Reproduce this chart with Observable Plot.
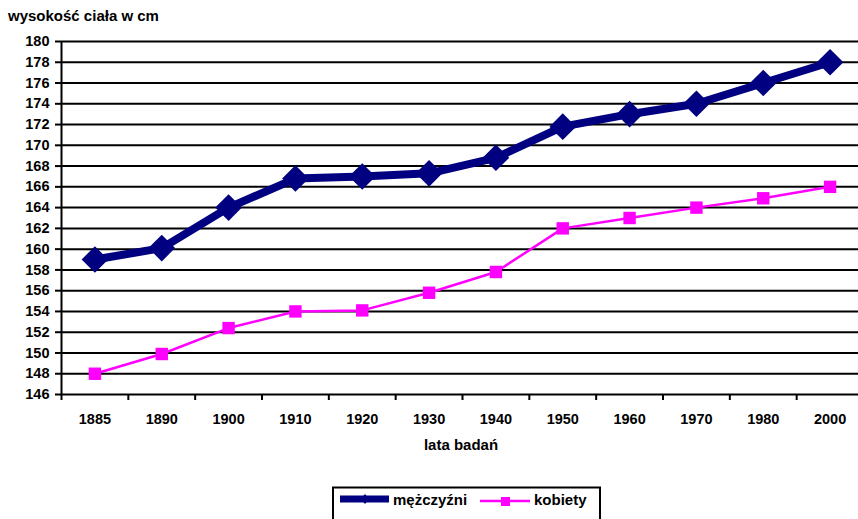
<!DOCTYPE html>
<html><head><meta charset="utf-8">
<script src="https://cdn.jsdelivr.net/npm/d3@7"></script>
<script src="https://cdn.jsdelivr.net/npm/@observablehq/plot@0.6"></script>
<style>
body{margin:0;background:#fff;}
#wrap{position:relative;width:858px;height:519px;overflow:hidden;background:#fff;font-family:"Liberation Sans",Arial,sans-serif;}
#wrap > svg{position:absolute;left:0;top:0;}
</style></head><body><div id="wrap"></div>
<script>
const years = ["1885","1890","1900","1910","1920","1930","1940","1950","1960","1970","1980","2000"];
const men = [159.0,160.1,164.0,166.8,167.0,167.3,168.8,171.8,173.0,174.0,176.0,178.0];
const women = [148.0,149.9,152.4,154.0,154.1,155.8,157.8,162.0,163.0,164.0,164.9,166.0];
const yTicks = [146,148,150,152,154,156,158,160,162,164,166,168,170,172,174,176,178,180];
const seriesNames = ["mężczyźni","kobiety"];
const titleText = "wysokość ciała w cm";
const xTitle = "lata badań";

const menData = years.map((y,i)=>({year:y, v:men[i]}));
const womenData = years.map((y,i)=>({year:y, v:women[i]}));

const left = 61, right = 863;
const bw = (right-left)/years.length;
const font = "'Liberation Sans', Arial, sans-serif";

const chart = Plot.plot({
  width: 858, height: 519,
  marginLeft: left, marginRight: 0, marginTop: 41, marginBottom: 125,
  style: {fontFamily: font, fontSize: "14.5px", fontWeight: "bold", color: "#000", background: "transparent", overflow: "visible"},
  x: {type: "band", domain: years, range: [left, right], padding: 0, round: false, label: null},
  y: {domain: [146, 180], label: null},
  marks: [
    Plot.ruleY(yTicks, {stroke: "#000", strokeWidth: 2}),
    Plot.ruleX(years, {x: d=>d, y1: 146, y2: 146, insetBottom: -6, dx: -bw/2, stroke: "#000", strokeWidth: 2}),
    Plot.ruleX(years.slice(0,1), {x: d=>d, y1: 146, y2: 180, dx: -bw/2, stroke: "#000", strokeWidth: 2}),
    Plot.axisY({ticks: yTicks, tickSize: 6, tickPadding: 6, stroke: "#000", strokeWidth: 2, label: null, fontWeight: "bold", fontSize: 14.5}),
    Plot.axisX({tickSize: 0, tickPadding: 19, label: null, fontWeight: "bold", fontSize: 14.5}),
    Plot.line(menData, {x: "year", y: "v", stroke: "#000080", strokeWidth: 8, strokeLinejoin: "round"}),
    Plot.dot(menData, {x: "year", y: "v", symbol: "diamond2", r: 12, fill: "#000080", stroke: "none"}),
    Plot.line(womenData, {x: "year", y: "v", stroke: "#FF00FF", strokeWidth: 2.5}),
    Plot.dot(womenData, {x: "year", y: "v", symbol: "square", r: 7, fill: "#FF00FF", stroke: "none"})
  ]
});
d3.select(chart).selectAll("text").style("font-size","14.5px").style("font-weight","bold").style("font-family",font);
const wrap = document.getElementById("wrap");
wrap.appendChild(chart);

// overlay: title, x-axis title, legend
const ov = d3.select(wrap).append("svg").attr("width",858).attr("height",519)
  .style("font-family", font).style("font-weight","bold");
ov.append("text").attr("x",8).attr("y",21).attr("font-size",15).text(titleText);
ov.append("text").attr("x",461).attr("y",450).attr("font-size",15).attr("text-anchor","middle").text(xTitle);
const lg = ov.append("g");
lg.append("rect").attr("x",333).attr("y",487.5).attr("width",267).attr("height",40).attr("fill","#fff").attr("stroke","#000").attr("stroke-width",2);
lg.append("line").attr("x1",340).attr("x2",389).attr("y1",499).attr("y2",499).attr("stroke","#000080").attr("stroke-width",7);
lg.append("path").attr("d","M365,494L369,499L365,504L361,499Z").attr("fill","#000080");
lg.append("text").attr("x",393).attr("y",505).attr("font-size",15).text(seriesNames[0]);
lg.append("line").attr("x1",480).attr("x2",530).attr("y1",501).attr("y2",501).attr("stroke","#FF00FF").attr("stroke-width",2.5);
lg.append("rect").attr("x",501).attr("y",497).attr("width",9).attr("height",9).attr("fill","#FF00FF");
lg.append("text").attr("x",534).attr("y",505).attr("font-size",15).text(seriesNames[1]);
</script></body></html>
